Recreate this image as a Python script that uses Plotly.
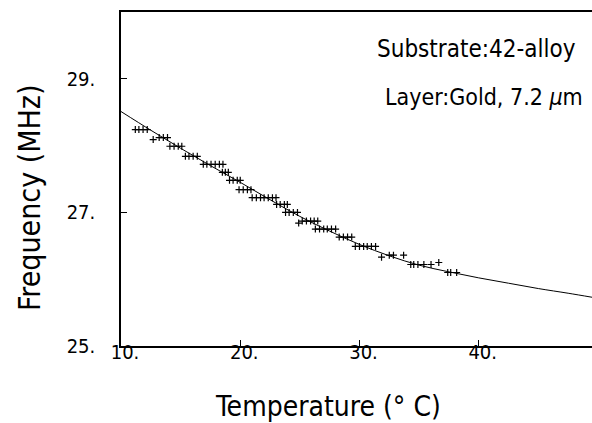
import plotly.graph_objects as go

# Measured points (Temperature in °C, Frequency in MHz)
meas_t = [11.2, 11.5, 11.85, 12.2,
          12.7,
          13.2, 13.55, 13.9,
          14.1, 14.45, 14.8, 15.1,
          15.4, 15.7, 16.05, 16.4,
          16.9, 17.2, 17.55, 17.9, 18.25, 18.55,
          18.5, 18.75, 19.0,
          19.1, 19.4, 19.75, 20.0,
          19.9, 20.25, 20.6, 20.9,
          21.0, 21.35, 21.7, 22.0, 22.35, 22.7, 23.0,
          23.05, 23.35, 23.7, 23.95,
          23.8, 24.1, 24.45, 24.8,
          24.9, 25.2, 25.55, 25.9, 26.2, 26.5,
          26.3, 26.65, 27.0, 27.3, 27.65, 28.0,
          28.3, 28.65, 29.0, 29.35,
          29.65, 30.0, 30.35, 30.65, 31.0, 31.35,
          31.85, 32.5, 32.85, 33.7,
          34.3, 34.55, 34.9, 35.4, 36.0, 36.65,
          37.4, 37.65, 38.15]
meas_f = [28.24, 28.24, 28.24, 28.24,
          28.09,
          28.12, 28.12, 28.12,
          27.99, 27.99, 27.99, 27.99,
          27.84, 27.84, 27.84, 27.84,
          27.72, 27.72, 27.72, 27.72, 27.72, 27.72,
          27.60, 27.60, 27.60,
          27.48, 27.48, 27.48, 27.48,
          27.34, 27.34, 27.34, 27.34,
          27.22, 27.22, 27.22, 27.22, 27.22, 27.22, 27.22,
          27.12, 27.12, 27.12, 27.12,
          27.00, 27.00, 27.00, 27.00,
          26.84, 26.87, 26.87, 26.87, 26.87, 26.87,
          26.75, 26.75, 26.75, 26.75, 26.75, 26.75,
          26.63, 26.63, 26.63, 26.63,
          26.49, 26.49, 26.49, 26.49, 26.49, 26.49,
          26.33, 26.36, 26.36, 26.36,
          26.22, 26.22, 26.22, 26.22, 26.22, 26.25,
          26.10, 26.10, 26.10]

# Fitted curve
fit_t = [10, 12.5, 15, 17.5, 20, 22.5, 25, 27.5, 30, 32.5, 35, 37.5, 40, 42.5, 45, 47.5, 49.5]
fit_f = [28.51, 28.23, 27.96, 27.70, 27.45, 27.19, 26.94, 26.72, 26.52, 26.35, 26.21, 26.11,
         26.02, 25.94, 25.86, 25.79, 25.73]

x_ticks = [10, 20, 30, 40]
x_ticktext = ["10.", "20.", "30.", "40."]
y_ticks = [25, 27, 29]
y_ticktext = ["25.", "27.", "29."]

x_title = "Temperature (° C)"
y_title = "Frequency (MHz)"
note_lines = ["Substrate:42-alloy", "Layer:Gold, 7.2 <i>μ</i>m"]

FONT = "DejaVu Sans Condensed, Roboto Condensed, Roboto, sans-serif"
W = 300


def f(size):
    return dict(size=size, family=FONT, weight=W, color="black")


fig = go.Figure()
fig.add_trace(go.Scatter(x=fit_t, y=fit_f, mode="lines", line=dict(color="black", width=1, shape="spline"),
                         hoverinfo="skip", showlegend=False))
fig.add_trace(go.Scatter(x=meas_t, y=meas_f, mode="markers",
                         marker=dict(symbol="cross-thin", size=5, line=dict(color="black", width=1.2)),
                         showlegend=False))

fig.update_layout(
    width=592, height=423,
    margin=dict(l=121, r=0, t=12, b=77),
    paper_bgcolor="white", plot_bgcolor="white",
    font=f(20),
    xaxis=dict(range=[10, 49.5], tickvals=x_ticks, ticktext=x_ticktext,
               showgrid=False, zeroline=False, showline=True, linecolor="black", linewidth=1.5,
               mirror=True, ticks="inside", ticklen=6, tickcolor="black",
               tickfont=f(20), ticklabelstandoff=-13, ticklabelshift=4),
    yaxis=dict(range=[25, 30], tickvals=y_ticks, ticktext=y_ticktext,
               showgrid=False, zeroline=False, showline=True, linecolor="black", linewidth=1.5,
               ticks="inside", ticklen=6, tickcolor="black",
               tickfont=f(20), ticklabelstandoff=20),
    annotations=[
        dict(text=x_title, xref="paper", yref="paper", x=0.4395, y=-0.18,
             xanchor="center", yanchor="middle", showarrow=False, font=f(28)),
        dict(text=y_title, xref="paper", yref="paper", x=-0.1953, y=0.443, textangle=-90,
             xanchor="center", yanchor="middle", showarrow=False, font=f(30)),
        dict(text=note_lines[0], xref="paper", yref="paper", x=0.539, y=0.889,
             xanchor="left", yanchor="middle", showarrow=False, font=f(24)),
        dict(text=note_lines[1], xref="paper", yref="paper", x=0.556, y=0.745,
             xanchor="left", yanchor="middle", showarrow=False, font=f(23)),
    ],
)

fig.write_html("out.html")
